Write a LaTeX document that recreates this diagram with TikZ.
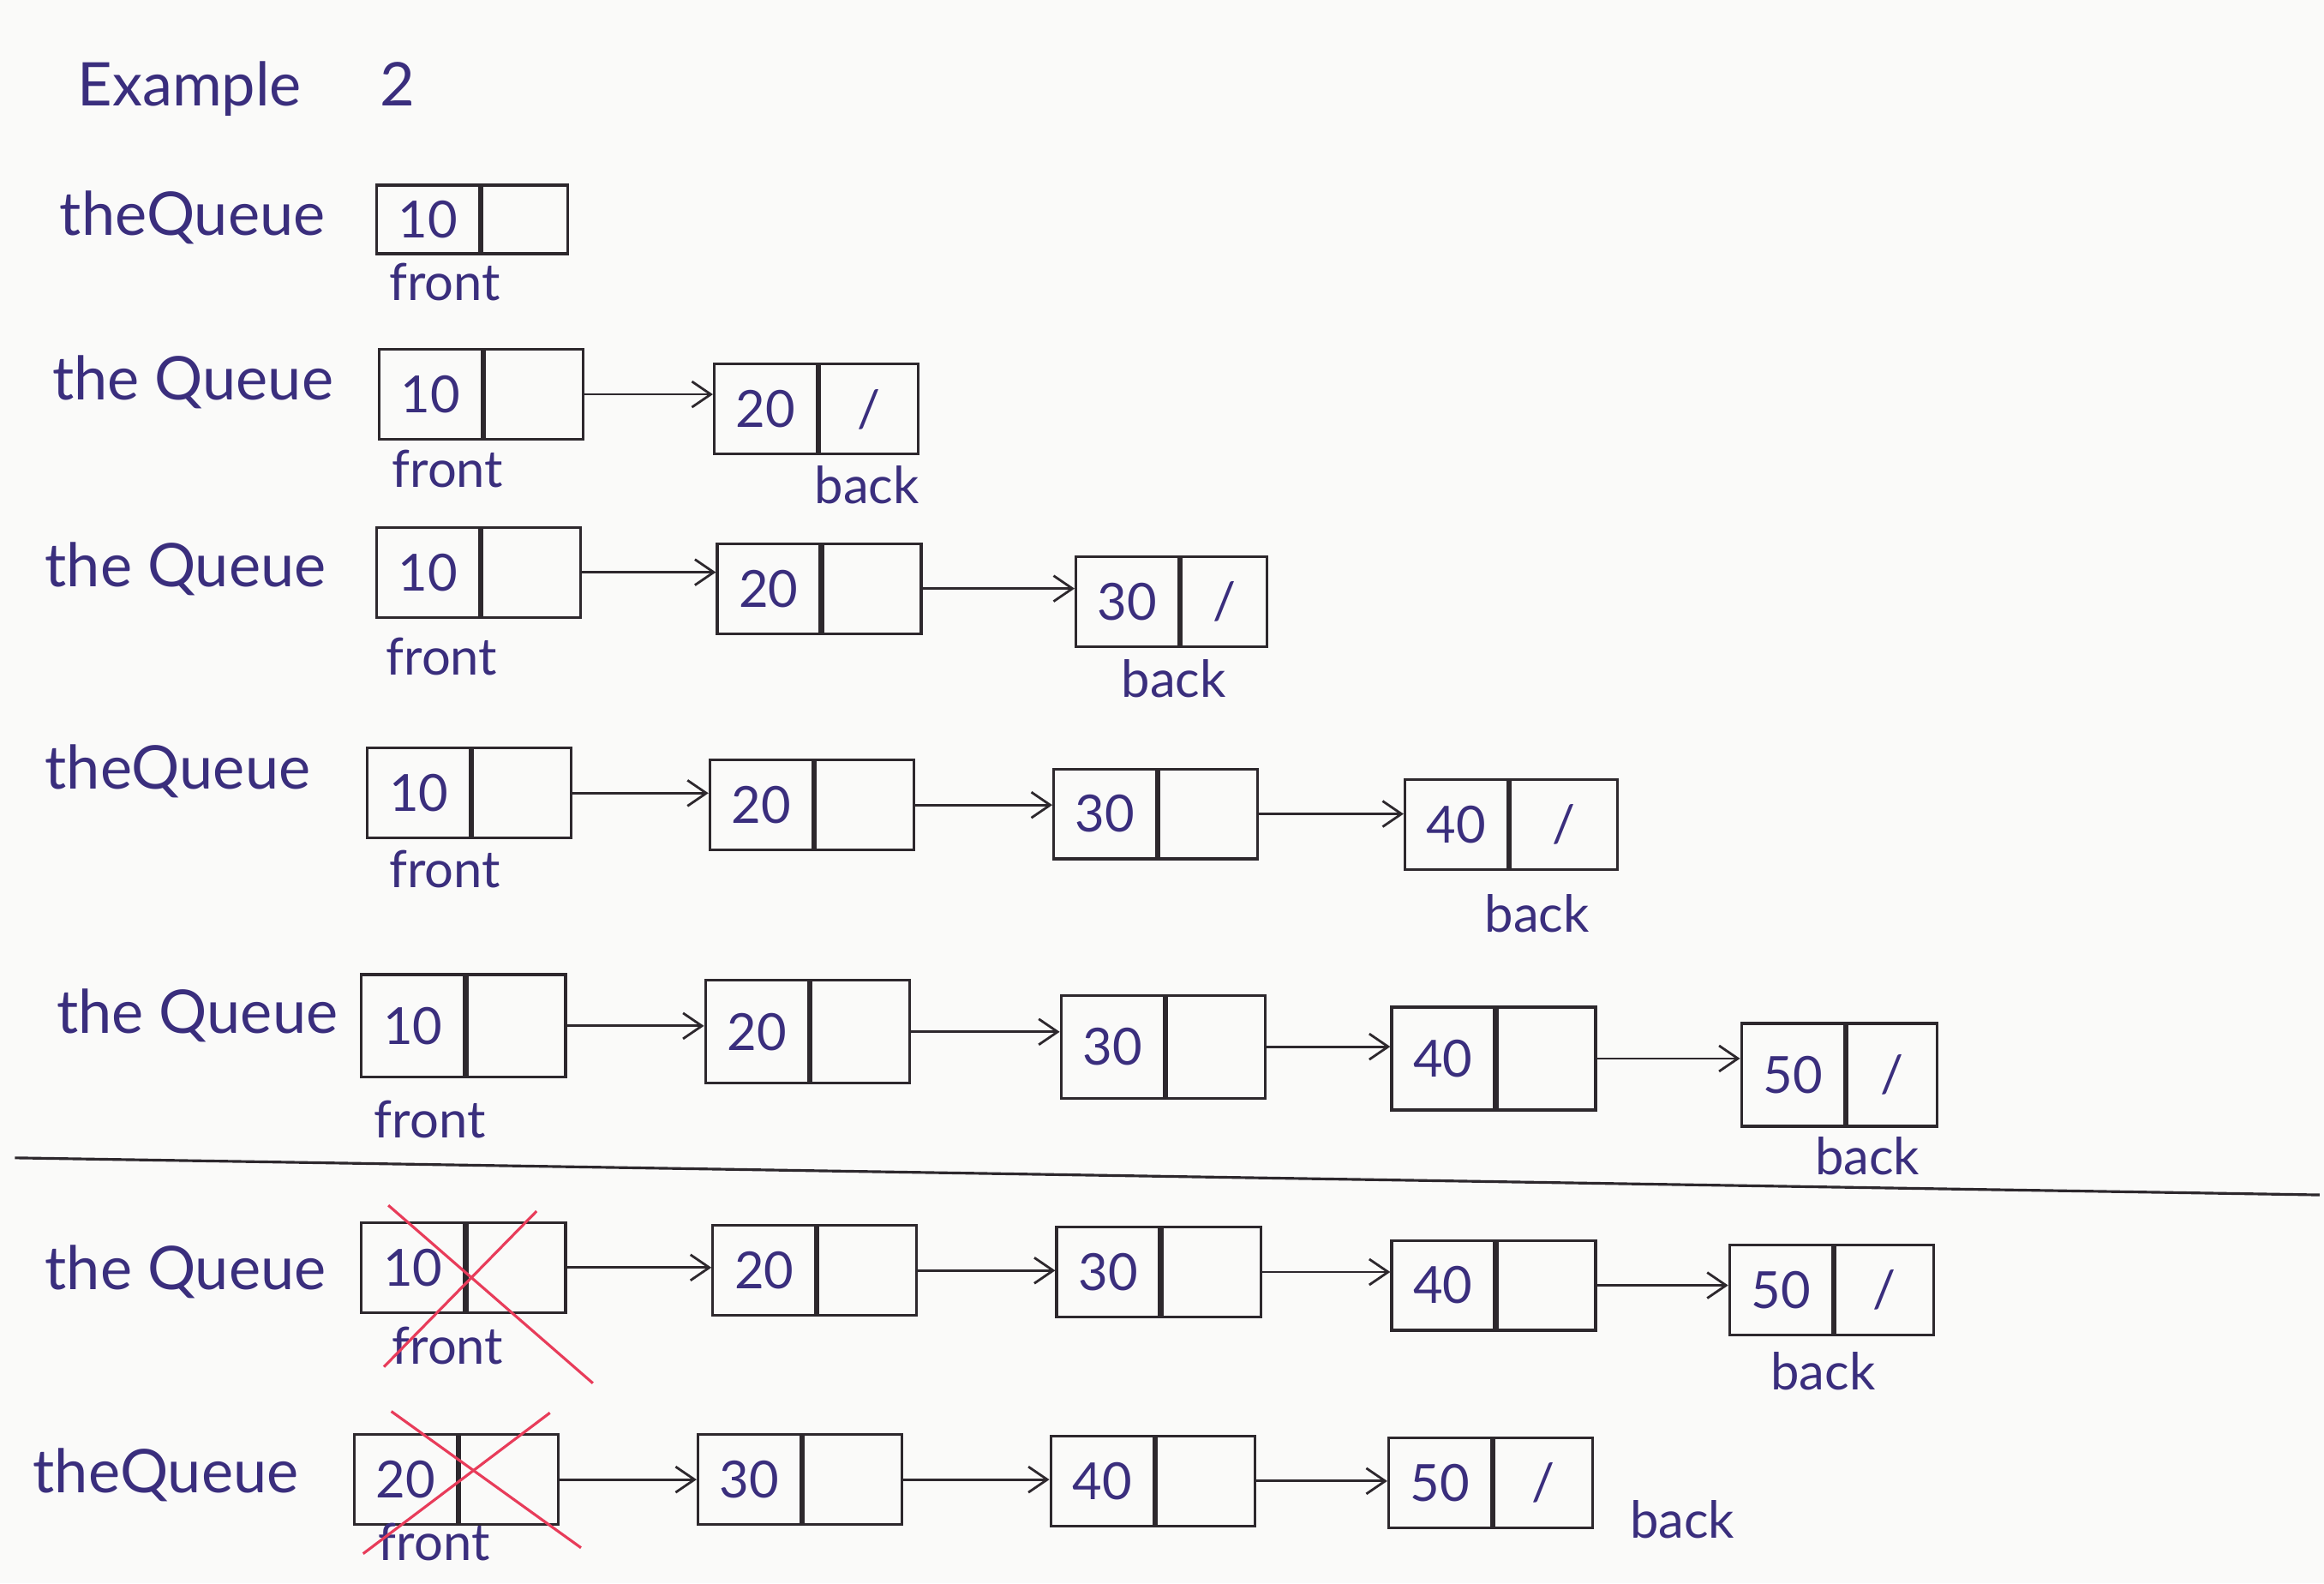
\documentclass[tikz,border=0pt]{standalone}
\usepackage{fontspec}
\setmainfont{Lato}
\usepackage{tikz}
\usetikzlibrary{positioning, arrows.meta}
\usepackage{xcolor}
\definecolor{ink}{RGB}{58,46,125}
\definecolor{pencil}{RGB}{45,40,45}
\definecolor{strike}{RGB}{232,60,90}
\definecolor{paper}{RGB}{250,250,249}

\begin{document}
\begin{tikzpicture}[
        x=0.017296cm, y=-0.017296cm,
        val/.style={
            rectangle,
            draw=pencil,
            line width=0.9pt,
            minimum width=1.2cm,
            minimum height=1.05cm,
            inner sep=0pt,
            text=ink,
            font=\fontsize{17}{20}\selectfont
        },
        link/.style={
            val,
            minimum width=1.15cm
        },
        lbl/.style={
            text=ink,
            inner sep=0pt,
            font=\fontsize{20}{24}\selectfont
        },
        tag/.style={
            text=ink,
            inner sep=0pt,
            font=\fontsize{17}{20}\selectfont
        },
        arrow/.style={
            -{Straight Barb[length=2.2mm, width=3mm]},
            draw=pencil,
            line width=0.8pt
        },
        cross/.style={
            draw=strike,
            line width=0.9pt
        }
    ]

    \fill[paper] (0,0) rectangle (1568,1068);
    \useasboundingbox (0,0) rectangle (1568,1068);

    \node[lbl, anchor=west] (title) at (52, 60) {Example\hspace{1.3em}2};

    % one node
    \node[lbl, anchor=west] (q1) at (40, 147) {theQueue};
    \node[val, anchor=west, minimum height=0.8cm] (q1_10) at (253, 148) {10};
    \node[link, right=0pt of q1_10, minimum height=0.8cm, minimum width=1.0cm] (q1_10_link) {};
    \node[tag] (q1_front) at (300, 190) {front};

    % two nodes
    \node[lbl, anchor=west] (q2) at (35, 258) {the Queue};
    \node[val, anchor=west] (q2_10) at (255, 266) {10};
    \node[link, right=0pt of q2_10] (q2_10_link) {};
    \node[val, anchor=west] (q2_20) at (481, 276) {20};
    \node[link, right=0pt of q2_20] (q2_20_link) {/};
    \node[tag] (q2_front) at (302, 316) {front};
    \node[tag] (q2_back) at (585, 327) {back};

    % three nodes
    \node[lbl, anchor=west] (q3) at (30, 384) {the Queue};
    \node[val, anchor=west] (q3_10) at (253, 386) {10};
    \node[link, right=0pt of q3_10] (q3_10_link) {};
    \node[val, anchor=west] (q3_20) at (483, 397) {20};
    \node[link, right=0pt of q3_20] (q3_20_link) {};
    \node[val, anchor=west] (q3_30) at (725, 406) {30};
    \node[link, right=0pt of q3_30, minimum width=1.0cm] (q3_30_link) {/};
    \node[tag] (q3_front) at (298, 443) {front};
    \node[tag] (q3_back) at (792, 458) {back};

    % four nodes
    \node[lbl, anchor=west] (q4) at (30, 520) {theQueue};
    \node[val, anchor=west] (q4_10) at (247, 535) {10};
    \node[link, right=0pt of q4_10] (q4_10_link) {};
    \node[val, anchor=west] (q4_20) at (478, 543) {20};
    \node[link, right=0pt of q4_20] (q4_20_link) {};
    \node[val, anchor=west] (q4_30) at (710, 549) {30};
    \node[link, right=0pt of q4_30] (q4_30_link) {};
    \node[val, anchor=west] (q4_40) at (947, 556) {40};
    \node[link, right=0pt of q4_40, minimum width=1.25cm] (q4_40_link) {/};
    \node[tag] (q4_front) at (300, 586) {front};
    \node[tag] (q4_back) at (1037, 616) {back};

    % five nodes
    \node[lbl, anchor=west] (q5) at (38, 685) {the Queue};
    \node[val, anchor=west, minimum height=1.2cm] (q5_10) at (243, 692) {10};
    \node[link, right=0pt of q5_10, minimum height=1.2cm] (q5_10_link) {};
    \node[val, anchor=west, minimum height=1.2cm] (q5_20) at (475, 696) {20};
    \node[link, right=0pt of q5_20, minimum height=1.2cm] (q5_20_link) {};
    \node[val, anchor=west, minimum height=1.2cm] (q5_30) at (715, 706) {30};
    \node[link, right=0pt of q5_30, minimum height=1.2cm] (q5_30_link) {};
    \node[val, anchor=west, minimum height=1.2cm] (q5_40) at (938, 714) {40};
    \node[link, right=0pt of q5_40, minimum height=1.2cm] (q5_40_link) {};
    \node[val, anchor=west, minimum height=1.2cm] (q5_50) at (1174, 725) {50};
    \node[link, right=0pt of q5_50, minimum height=1.2cm, minimum width=1.05cm] (q5_50_link) {/};
    \node[tag] (q5_front) at (290, 755) {front};
    \node[tag] (q5_back) at (1260, 780) {back};

    \draw[pencil, line width=0.9pt] (10, 781) -- (1565, 806);

    % dequeue 10
    \node[lbl, anchor=west] (q6) at (30, 858) {the Queue};
    \node[val, anchor=west] (q6_10) at (243, 855) {10};
    \node[link, right=0pt of q6_10] (q6_10_link) {};
    \node[val, anchor=west] (q6_20) at (480, 857) {20};
    \node[link, right=0pt of q6_20] (q6_20_link) {};
    \node[val, anchor=west] (q6_30) at (712, 858) {30};
    \node[link, right=0pt of q6_30] (q6_30_link) {};
    \node[val, anchor=west] (q6_40) at (938, 867) {40};
    \node[link, right=0pt of q6_40] (q6_40_link) {};
    \node[val, anchor=west] (q6_50) at (1166, 870) {50};
    \node[link, right=0pt of q6_50] (q6_50_link) {/};
    \node[tag] (q6_front) at (302, 908) {front};
    \node[tag] (q6_back) at (1230, 925) {back};

    % dequeue 20
    \node[lbl, anchor=west] (q7) at (22, 995) {theQueue};
    \node[val, anchor=west] (q7_20) at (238, 998) {20};
    \node[link, right=0pt of q7_20] (q7_20_link) {};
    \node[val, anchor=west] (q7_30) at (470, 998) {30};
    \node[link, right=0pt of q7_30] (q7_30_link) {};
    \node[val, anchor=west] (q7_40) at (708, 999) {40};
    \node[link, right=0pt of q7_40] (q7_40_link) {};
    \node[val, anchor=west] (q7_50) at (936, 1000) {50};
    \node[link, right=0pt of q7_50] (q7_50_link) {/};
    \node[tag] (q7_front) at (293, 1040) {front};
    \node[tag] (q7_back) at (1135, 1025) {back};

    % Arrows
    \draw[arrow] (q2_10_link.east) -- (q2_10_link.east -| q2_20.west);

    \draw[arrow] (q3_10_link.east) -- (q3_10_link.east -| q3_20.west);
    \draw[arrow] (q3_20_link.east) -- (q3_20_link.east -| q3_30.west);

    \draw[arrow] (q4_10_link.east) -- (q4_10_link.east -| q4_20.west);
    \draw[arrow] (q4_20_link.east) -- (q4_20_link.east -| q4_30.west);
    \draw[arrow] (q4_30_link.east) -- (q4_30_link.east -| q4_40.west);

    \draw[arrow] (q5_10_link.east) -- (q5_10_link.east -| q5_20.west);
    \draw[arrow] (q5_20_link.east) -- (q5_20_link.east -| q5_30.west);
    \draw[arrow] (q5_30_link.east) -- (q5_30_link.east -| q5_40.west);
    \draw[arrow] (q5_40_link.east) -- (q5_40_link.east -| q5_50.west);

    \draw[arrow] (q6_10_link.east) -- (q6_10_link.east -| q6_20.west);
    \draw[arrow] (q6_20_link.east) -- (q6_20_link.east -| q6_30.west);
    \draw[arrow] (q6_30_link.east) -- (q6_30_link.east -| q6_40.west);
    \draw[arrow] (q6_40_link.east) -- (q6_40_link.east -| q6_50.west);

    \draw[arrow] (q7_20_link.east) -- (q7_20_link.east -| q7_30.west);
    \draw[arrow] (q7_30_link.east) -- (q7_30_link.east -| q7_40.west);
    \draw[arrow] (q7_40_link.east) -- (q7_40_link.east -| q7_50.west);

    % crossed out
    \draw[cross] (262, 813) -- (400, 933);
    \draw[cross] (362, 817) -- (259, 922);
    \draw[cross] (264, 952) -- (392, 1044);
    \draw[cross] (371, 953) -- (245, 1048);

\end{tikzpicture}
\end{document}
